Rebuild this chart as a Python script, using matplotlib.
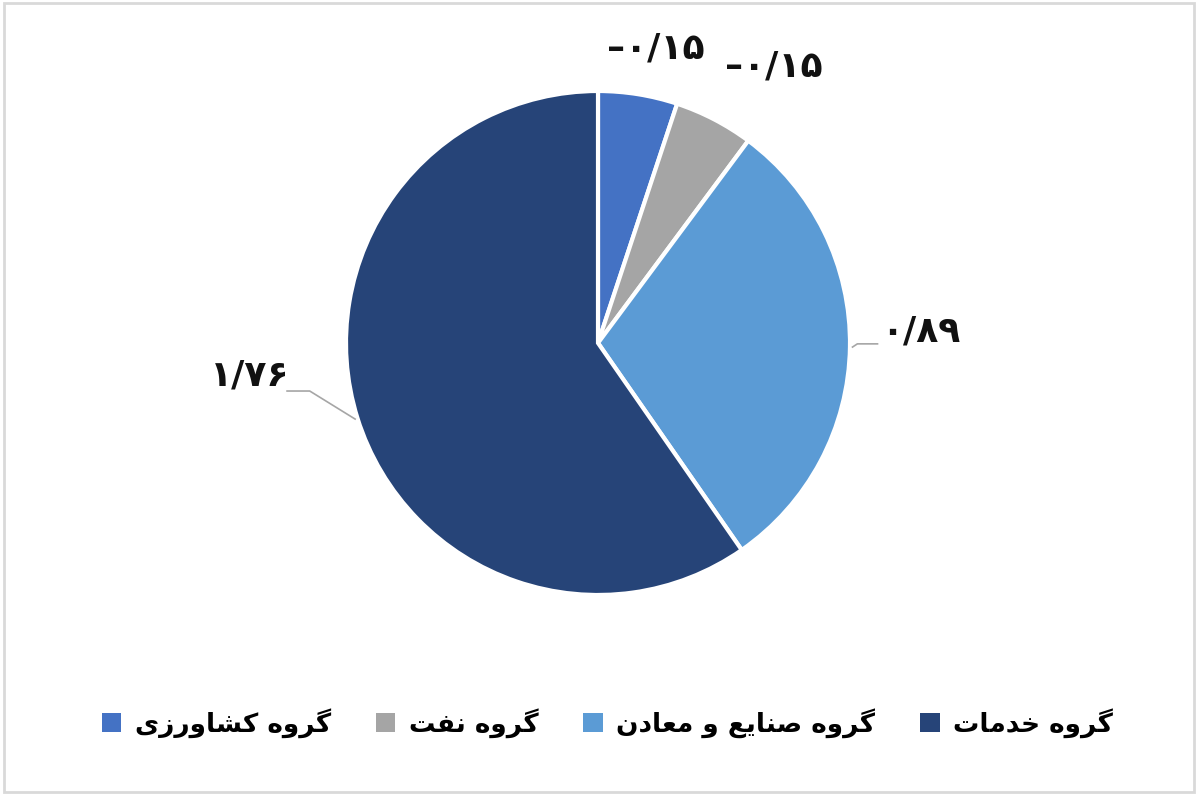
import numpy as np
import matplotlib.pyplot as plt
from matplotlib.patches import Rectangle

plt.rcParams['font.family'] = ['DejaVu Sans']

# Persian text, written in presentation forms in visual (left-to-right) order
# because matplotlib does no Arabic shaping
GROUP = "\uFEE9\uFEED\uFEAE\uFB94"  # گروه
categories = [
    "\uFBFC\uFEAF\uFEAD\uFEED\uFE8E\uFEB8\uFB90 " + GROUP,  # گروه کشاورزی
    "\uFE96\uFED4\uFEE7 " + GROUP,  # گروه نفت
    "\uFEE5\uFEA9\uFE8E\uFECC\uFEE3 \uFEED \uFECA\uFBFE\uFE8E\uFEE8\uFEBB " + GROUP,  # گروه صنایع و معادن
    "\uFE95\uFE8E\uFEE3\uFEAA\uFEA7 " + GROUP,  # گروه خدمات
]
values = [0.15, 0.15, 0.89, 1.76]
value_labels = ["\u2013\u06F0/\u06F1\u06F5", "\u2013\u06F0/\u06F1\u06F5",
                "\u06F0/\u06F8\u06F9", "\u06F1/\u06F7\u06F6"]
colors = ["#4472C4", "#A5A5A5", "#5B9BD5", "#264478"]

W, H = 1200, 797
cx, cy, R = 598, 343, 252

fig = plt.figure(figsize=(W / 100, H / 100), dpi=100)
ax = fig.add_axes([0, 0, 1, 1])

wedges, _ = ax.pie(values, colors=colors, startangle=90, counterclock=False,
                   radius=1.0, wedgeprops=dict(edgecolor="white", linewidth=3))

ax.set_xlim(-cx / R, (W - cx) / R)
ax.set_ylim(-(H - cy) / R, cy / R)
ax.set_aspect("equal", adjustable="box")
ax.axis("off")

# label placement: (radius, angle offset in degrees) relative to wedge mid-angle
label_pos = [(1.19, -2), (1.30, -5), (1.28, 3), (1.39, -12)]
leader = [False, False, True, True]
for w, lab, (r, off), ld in zip(wedges, value_labels, label_pos, leader):
    mid = np.deg2rad((w.theta1 + w.theta2) / 2)
    ang = mid + np.deg2rad(off)
    tx, ty = r * np.cos(ang), r * np.sin(ang)
    if ld:
        ex, ey = 1.01 * np.cos(mid), 1.01 * np.sin(mid)
        if np.cos(mid) < 0:
            kx = tx + 0.2
            ax.plot([ex, kx + 0.04, kx - 0.05], [ey, ty - 0.06, ty - 0.06],
                    color="#A6A6A6", lw=1.2)
        else:
            kx = tx - 0.25
            ax.plot([ex, kx, kx + 0.08], [ey, ty - 0.05, ty - 0.05],
                    color="#A6A6A6", lw=1.2)
    ax.text(tx, ty, lab, ha="center", va="center", fontsize=26,
            fontweight="bold", color="#111111")

leg = fig.legend(wedges, categories, loc="center", bbox_to_anchor=(0.506, 0.093),
                 ncol=4, frameon=False, markerfirst=True,
                 handlelength=0.75, handleheight=0.75, handletextpad=0.5,
                 columnspacing=1.7, prop=dict(weight="bold", size=19))
for h in leg.legend_handles:
    h.set_edgecolor("none")

fig.patches.append(Rectangle((0.003, 0.006), 0.992, 0.99, transform=fig.transFigure,
                             fill=False, edgecolor="#D9D9D9", lw=2))

fig.savefig("out.png", dpi=100, facecolor="white")
